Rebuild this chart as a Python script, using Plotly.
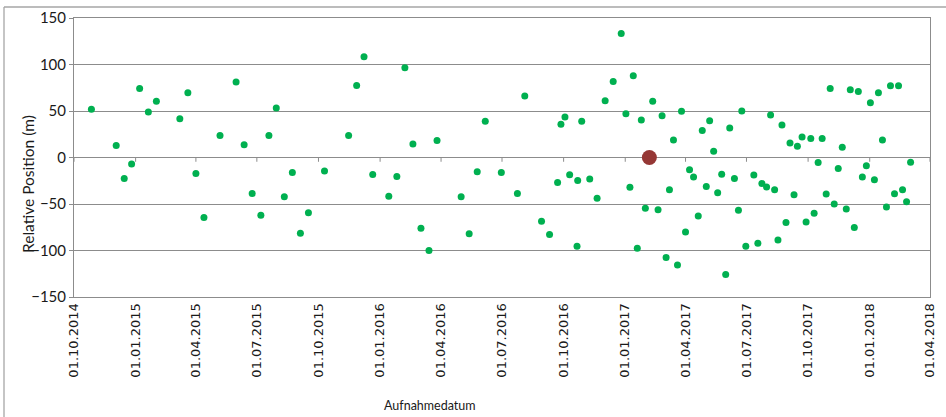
import plotly.graph_objects as go

# ---- data ----
dates = [
    "2014-10-27", "2014-12-03", "2014-12-15", "2014-12-26", "2015-01-07", "2015-01-20",
    "2015-02-01", "2015-03-08", "2015-03-20", "2015-04-01", "2015-04-13", "2015-05-07",
    "2015-05-31", "2015-06-12", "2015-06-24", "2015-07-07", "2015-07-19", "2015-07-30",
    "2015-08-11", "2015-08-23", "2015-09-04", "2015-09-16", "2015-10-10", "2015-11-15",
    "2015-11-27", "2015-12-08", "2015-12-21", "2016-01-14", "2016-01-26", "2016-02-07",
    "2016-02-19", "2016-03-02", "2016-03-14", "2016-03-26", "2016-05-01", "2016-05-13",
    "2016-05-25", "2016-06-06", "2016-06-30", "2016-07-24", "2016-08-04", "2016-08-29",
    "2016-09-10", "2016-09-22", "2016-09-27", "2016-10-03", "2016-10-10", "2016-10-21",
    "2016-10-22", "2016-10-28", "2016-11-09", "2016-11-20", "2016-12-02", "2016-12-14",
    "2016-12-26", "2017-01-02", "2017-01-08", "2017-01-13", "2017-01-19", "2017-01-25",
    "2017-01-31", "2017-02-11", "2017-02-19", "2017-02-25", "2017-03-03", "2017-03-08",
    "2017-03-14", "2017-03-20", "2017-03-26", "2017-04-01", "2017-04-07", "2017-04-13",
    "2017-04-20", "2017-04-26", "2017-05-02", "2017-05-07", "2017-05-13", "2017-05-19",
    "2017-05-25", "2017-05-31", "2017-06-06", "2017-06-13", "2017-06-19", "2017-06-24",
    "2017-06-30", "2017-07-12", "2017-07-18", "2017-07-24", "2017-07-31", "2017-08-06",
    "2017-08-12", "2017-08-17", "2017-08-23", "2017-08-29", "2017-09-04", "2017-09-10",
    "2017-09-15", "2017-09-22", "2017-09-28", "2017-10-05", "2017-10-10", "2017-10-16",
    "2017-10-22", "2017-10-28", "2017-11-03", "2017-11-09", "2017-11-15", "2017-11-21",
    "2017-11-27", "2017-12-03", "2017-12-09", "2017-12-15", "2017-12-21", "2017-12-27",
    "2018-01-02", "2018-01-08", "2018-01-14", "2018-01-20", "2018-01-26", "2018-02-01",
    "2018-02-07", "2018-02-13", "2018-02-19", "2018-02-25", "2018-03-03",
]
positions = [
    51.8, 12.9, -22.5, -7.1, 74.3, 48.9,
    60.4, 41.8, 69.6, -17.1, -64.6, 23.6,
    81.1, 13.6, -38.6, -62.1, 23.6, 53.2,
    -42.1, -16.1, -81.4, -59.3, -14.6, 23.6,
    77.5, 108.2, -18.2, -41.8, -20.4, 96.4,
    14.6, -76.1, -100.0, 18.2, -42.1, -82.1,
    -15.4, 38.9, -16.1, -38.6, 66.1, -68.6,
    -82.9, -26.8, 35.7, 43.6, -18.6, -95.4,
    -24.6, 38.9, -23.2, -43.9, 61.1, 81.8,
    133.2, 47.1, -32.1, 87.9, -97.5, 40.4,
    -54.6, 60.4, -56.1, 45.0, -107.5, -34.6,
    18.9, -115.7, 49.6, -80.0, -13.2, -21.1,
    -62.9, 28.9, -31.1, 39.6, 6.8, -37.9,
    -17.9, -125.7, 31.8, -22.5, -56.8, 50.0,
    -95.4, -18.9, -92.1, -27.9, -31.8, 45.7,
    -34.6, -88.6, 35.0, -70.0, 15.7, -40.0,
    12.1, 22.1, -69.3, 20.4, -60.0, -5.4,
    20.4, -39.3, 74.3, -50.0, -11.8, 11.1,
    -55.4, 72.9, -75.4, 71.1, -21.1, -8.9,
    58.9, -23.9, 69.6, 18.9, -53.2, 77.1,
    -38.9, 77.1, -34.6, -47.5, -5.0,
]
reference_date = ["2017-02-06"]
reference_pos = [0.0]

tick_dates = [
    "2014-10-01", "2015-01-01", "2015-04-01", "2015-07-01", "2015-10-01",
    "2016-01-01", "2016-04-01", "2016-07-01", "2016-10-01", "2017-01-01",
    "2017-04-01", "2017-07-01", "2017-10-01", "2018-01-01", "2018-04-01",
]
tick_labels = [
    "01.10.2014", "01.01.2015", "01.04.2015", "01.07.2015", "01.10.2015",
    "01.01.2016", "01.04.2016", "01.07.2016", "01.10.2016", "01.01.2017",
    "01.04.2017", "01.07.2017", "01.10.2017", "01.01.2018", "01.04.2018",
]
y_ticks = [-150, -100, -50, 0, 50, 100, 150]

GRID = "#8c8c8c"
TXT = "#1a1a1a"

fig = go.Figure()

# tick marks on the horizontal axis crossing at 0
tx, ty = [], []
for d in tick_dates:
    tx += [d, d, None]
    ty += [0, -4.6, None]
fig.add_trace(go.Scatter(x=tx, y=ty, mode="lines", line=dict(color=GRID, width=1),
                         hoverinfo="skip", showlegend=False, cliponaxis=False))

fig.add_trace(go.Scatter(
    x=dates, y=positions, mode="markers",
    marker=dict(size=7, color="#00b050", line=dict(width=0)),
    showlegend=False,
))
fig.add_trace(go.Scatter(
    x=reference_date, y=reference_pos, mode="markers",
    marker=dict(size=15, color="#953735", line=dict(width=0)),
    showlegend=False,
))

fig.update_layout(
    width=946, height=417,
    margin=dict(l=74, r=16, t=18, b=120, autoexpand=False),
    paper_bgcolor="white", plot_bgcolor="white",
    font=dict(family="Lato", color=TXT),
    xaxis=dict(
        type="date", automargin=False,
        range=["2014-10-01", "2018-04-01"],
        tickmode="array", tickvals=tick_dates, ticktext=tick_labels,
        tickangle=-90,
        tickfont=dict(family="DejaVu Sans", size=13, color=TXT),
        showgrid=False, zeroline=False,
        showline=True, linecolor=GRID, linewidth=1, mirror=True,
        ticks="", ticklen=0,
    ),
    yaxis=dict(
        range=[-150, 150], automargin=False,
        tickmode="array", tickvals=y_ticks,
        tickfont=dict(family="Lato", size=15, color=TXT),
        showgrid=True, gridcolor=GRID, gridwidth=1,
        zeroline=False,
        showline=True, linecolor=GRID, linewidth=1, mirror=True,
        ticks="outside", ticklen=4, tickcolor=GRID,
    ),
    annotations=[
        dict(text="Aufnahmedatum", xref="paper", yref="paper",
             x=(430 - 74) / 856, y=(297 - 405) / 279, xanchor="center", yanchor="middle",
             showarrow=False, font=dict(family="Lato", size=12.5, color=TXT)),
        dict(text="Relative Position (m)", xref="paper", yref="paper",
             x=(28 - 74) / 856, y=(297 - 184) / 279, xanchor="center", yanchor="middle",
             textangle=-90, showarrow=False, font=dict(family="Lato", size=15.5, color=TXT)),
    ],
    shapes=[
        dict(type="line", xref="paper", yref="paper",
             x0=(4 - 74) / 856, x1=(950 - 74) / 856,
             y0=1 + 11 / 279, y1=1 + 11 / 279,
             line=dict(color="#a6a6a6", width=1.3)),
        dict(type="line", xref="paper", yref="paper",
             x0=(4 - 74) / 856, x1=(4 - 74) / 856,
             y0=1 + 11 / 279, y1=(297 - 420) / 279,
             line=dict(color="#a6a6a6", width=1.3)),
    ],
)

fig.write_html(
    "out.html",
    config={"displayModeBar": False},
    post_script="document.body.style.margin='0';document.body.style.overflow='hidden';",
)
